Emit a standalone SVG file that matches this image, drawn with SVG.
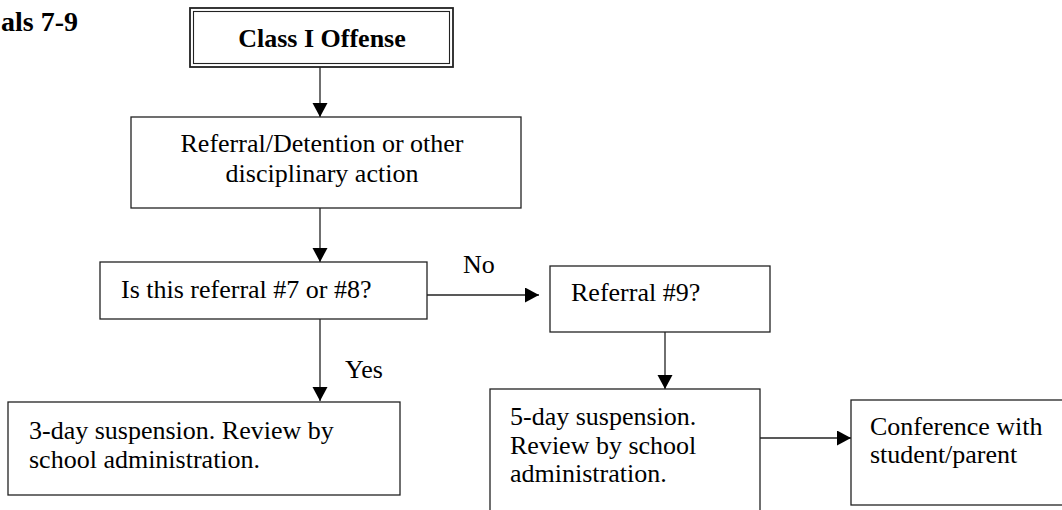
<svg xmlns="http://www.w3.org/2000/svg" width="1062" height="510" viewBox="0 0 1062 510">
  <style>
    .box { fill: #fff; stroke: #222; stroke-width: 1.3; }
    .t { font-family: "Liberation Serif", "Times New Roman", serif; font-size: 26px; fill: #000; }
    .b { font-weight: bold; }
    .edge { stroke: #222; stroke-width: 1.3; fill: none; marker-end: url(#arrow); }
  </style>
  <defs>
    <marker id="arrow" markerUnits="userSpaceOnUse" markerWidth="15" markerHeight="16" refX="14" refY="7.5" orient="auto">
      <path d="M0,0 L14,7.5 L0,15 z" fill="#000"/>
    </marker>
  </defs>
  <rect width="1062" height="510" fill="#fff"/>

  <!-- page heading, partly outside the page -->
  <text class="t b" x="78" y="31" text-anchor="end" style="font-size:28px">als 7-9</text>

  <g id="connectors">
    <line class="edge" x1="320" y1="67" x2="320" y2="117"/>
    <line class="edge" x1="320" y1="208" x2="320" y2="262"/>
    <line class="edge" x1="427" y1="295" x2="539" y2="295"/>
    <line class="edge" x1="320" y1="319" x2="320" y2="401"/>
    <line class="edge" x1="665" y1="332" x2="665" y2="389"/>
    <line class="edge" x1="760" y1="438" x2="851" y2="438"/>
    <text class="t" x="463" y="273">No</text>
    <text class="t" x="345" y="378">Yes</text>
  </g>

  <g id="offense">
    <rect x="190" y="8" width="263" height="59" fill="#fff" stroke="#222" stroke-width="1.8"/>
    <rect x="193.5" y="11.5" width="256" height="52" fill="none" stroke="#222" stroke-width="1.1"/>
    <text class="t b" x="322" y="47" text-anchor="middle">Class I Offense</text>
  </g>

  <g id="referral">
    <rect class="box" x="131" y="117" width="390" height="91"/>
    <text class="t" x="322" y="152" text-anchor="middle">Referral/Detention or other</text>
    <text class="t" x="322" y="182" text-anchor="middle">disciplinary action</text>
  </g>

  <g id="is-seven-or-eight">
    <rect class="box" x="100" y="262" width="327" height="57"/>
    <text class="t" x="121" y="298">Is this referral #7 or #8?</text>
  </g>

  <g id="referral-nine">
    <rect class="box" x="550" y="266" width="220" height="66"/>
    <text class="t" x="571" y="301">Referral #9?</text>
  </g>

  <g id="three-day">
    <rect class="box" x="8" y="402" width="392" height="93"/>
    <text class="t" x="29" y="439">3-day suspension. Review by</text>
    <text class="t" x="29" y="468">school administration.</text>
  </g>

  <g id="five-day">
    <rect class="box" x="490" y="389" width="270" height="140"/>
    <text class="t" x="510" y="425">5-day suspension.</text>
    <text class="t" x="510" y="454">Review by school</text>
    <text class="t" x="510" y="482">administration.</text>
  </g>

  <g id="conference">
    <rect class="box" x="851" y="400" width="230" height="105"/>
    <text class="t" x="870" y="435">Conference with</text>
    <text class="t" x="870" y="463">student/parent</text>
  </g>
</svg>
